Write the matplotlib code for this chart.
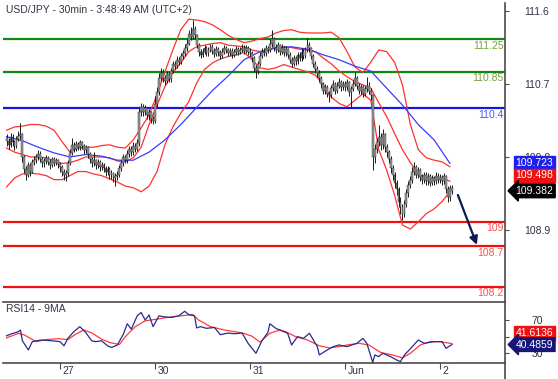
import numpy as np
import matplotlib
matplotlib.use("Agg")
import matplotlib.pyplot as plt
import matplotlib.transforms as mtransforms
from matplotlib.lines import Line2D

plt.rcParams['font.family'] = ['Liberation Sans', 'DejaVu Sans']

# %% Price data, 30 min bars, one block per session day

first_open = 110.03

close_may26 = [110.00, 109.95, 110.05, 109.98, 109.93, 110.02, 110.06, 110.08, 109.80, 109.65,
               109.58, 109.70, 109.62, 109.74, 109.76, 109.80, 109.84, 109.78, 109.72, 109.75,
               109.79, 109.74, 109.70, 109.77, 109.73, 109.76, 109.71]
high_may26 = [110.08, 110.04, 110.09, 110.08, 110.01, 110.06, 110.12, 110.22, 110.10, 109.83,
              109.69, 109.74, 109.73, 109.78, 109.81, 109.84, 109.89, 109.87, 109.80, 109.79,
              109.83, 109.81, 109.77, 109.80, 109.80, 109.79, 109.78]
low_may26 = [109.94, 109.90, 109.92, 109.94, 109.89, 109.91, 110.00, 110.02, 109.74, 109.60,
             109.52, 109.55, 109.57, 109.60, 109.70, 109.72, 109.76, 109.74, 109.67, 109.68,
             109.71, 109.70, 109.65, 109.67, 109.69, 109.70, 109.66]

close_may27 = [109.68, 109.62, 109.58, 109.60, 109.72, 109.85, 109.95, 109.90, 109.96, 109.92,
               109.98, 109.94, 109.88, 109.92, 109.84, 109.78, 109.72, 109.76, 109.70, 109.74,
               109.68, 109.70, 109.66, 109.62, 109.65, 109.58, 109.60, 109.54, 109.57, 109.58,
               109.66, 109.72, 109.80, 109.76, 109.84, 109.90, 109.86, 109.94, 109.90, 109.97,
               110.35, 110.42, 110.36, 110.40, 110.32, 110.35, 110.27, 110.24]
high_may27 = [109.74, 109.70, 109.65, 109.64, 109.76, 109.90, 110.03, 109.98, 110.00, 109.99,
              110.01, 110.00, 109.96, 109.95, 109.93, 109.86, 109.80, 109.86, 109.78, 109.77,
              109.76, 109.74, 109.72, 109.69, 109.69, 109.67, 109.64, 109.62, 109.60, 109.63,
              109.70, 109.76, 109.84, 109.83, 109.88, 109.94, 109.93, 109.98, 109.97, 110.02,
              110.42, 110.47, 110.45, 110.44, 110.42, 110.39, 110.37, 110.30]
low_may27 = [109.62, 109.57, 109.52, 109.50, 109.57, 109.70, 109.82, 109.86, 109.87, 109.88,
             109.89, 109.90, 109.84, 109.85, 109.79, 109.73, 109.67, 109.69, 109.65, 109.66,
             109.63, 109.64, 109.61, 109.57, 109.58, 109.53, 109.53, 109.49, 109.44, 109.52,
             109.55, 109.63, 109.69, 109.72, 109.73, 109.80, 109.81, 109.83, 109.86, 109.87,
             109.94, 110.30, 110.31, 110.32, 110.27, 110.25, 110.22, 110.21]

close_may30 = [110.45, 110.60, 110.78, 110.84, 110.78, 110.74, 110.82, 110.76, 110.86, 110.95,
               110.92, 111.00, 110.97, 111.04, 111.08, 111.14, 111.20, 111.32, 111.28, 111.38,
               111.30, 111.18, 111.10, 111.06, 111.10, 111.14, 111.08, 111.12, 111.16, 111.11,
               111.07, 111.13, 111.09, 111.05, 111.10, 111.14, 111.12, 111.08, 111.11, 111.06,
               111.09, 111.13, 111.10, 111.12, 111.15, 111.11, 111.14, 111.10]
high_may30 = [110.55, 110.66, 110.84, 110.90, 110.88, 110.81, 110.86, 110.85, 110.90, 110.99,
              110.98, 111.04, 111.03, 111.08, 111.12, 111.19, 111.26, 111.37, 111.40, 111.49,
              111.42, 111.32, 111.21, 111.13, 111.14, 111.18, 111.17, 111.16, 111.20, 111.19,
              111.14, 111.17, 111.16, 111.12, 111.14, 111.18, 111.17, 111.15, 111.15, 111.14,
              111.13, 111.17, 111.16, 111.16, 111.19, 111.18, 111.18, 111.17]
low_may30 = [110.22, 110.42, 110.57, 110.74, 110.72, 110.69, 110.71, 110.72, 110.73, 110.83,
             110.88, 110.90, 110.93, 110.95, 111.01, 111.05, 111.11, 111.18, 111.24, 111.25,
             111.26, 111.14, 111.05, 111.02, 111.03, 111.07, 111.04, 111.05, 111.09, 111.07,
             111.03, 111.04, 111.05, 111.01, 111.02, 111.07, 111.08, 111.04, 111.05, 111.02,
             111.03, 111.06, 111.06, 111.07, 111.09, 111.07, 111.08, 111.06]

close_may31 = [111.08, 111.02, 110.90, 110.86, 110.95, 111.05, 111.10, 111.08, 111.14, 111.12,
               111.20, 111.26, 111.15, 111.12, 111.18, 111.10, 111.15, 111.08, 111.13, 111.06,
               111.00, 110.95, 111.02, 110.98, 111.06, 111.02, 111.10, 111.05, 111.12, 111.18,
               111.14, 111.05, 110.95, 110.88, 110.84, 110.78, 110.70, 110.62, 110.66, 110.58,
               110.56, 110.65, 110.70, 110.62, 110.68, 110.72, 110.66, 110.70]
high_may31 = [111.14, 111.11, 111.04, 110.93, 110.99, 111.09, 111.14, 111.14, 111.18, 111.17,
              111.25, 111.37, 111.28, 111.19, 111.22, 111.20, 111.19, 111.17, 111.17, 111.15,
              111.09, 111.03, 111.06, 111.05, 111.10, 111.09, 111.14, 111.13, 111.16, 111.27,
              111.22, 111.16, 111.07, 110.98, 110.92, 110.87, 110.80, 110.73, 110.70, 110.69,
              110.62, 110.69, 110.75, 110.73, 110.72, 110.77, 110.75, 110.74]
low_may31 = [111.04, 110.97, 110.85, 110.78, 110.82, 110.92, 111.02, 111.04, 111.05, 111.08,
             111.09, 111.16, 111.11, 111.08, 111.09, 111.06, 111.07, 111.04, 111.05, 111.02,
             110.96, 110.91, 110.92, 110.94, 110.95, 110.98, 110.99, 111.01, 111.02, 111.09,
             111.10, 111.01, 110.91, 110.84, 110.79, 110.73, 110.65, 110.58, 110.58, 110.54,
             110.48, 110.53, 110.62, 110.58, 110.59, 110.65, 110.62, 110.63]

close_jun1 = [110.66, 110.72, 110.60, 110.64, 110.70, 110.78, 110.68, 110.62, 110.66, 110.58,
              110.64, 110.68, 110.62, 110.56, 109.80, 109.90, 109.98, 110.05, 109.95, 110.08,
              109.92, 109.86, 109.78, 109.66, 109.58, 109.48, 109.40, 109.25, 109.18, 109.10,
              109.22, 109.35, 109.46, 109.52, 109.62, 109.68, 109.58, 109.64, 109.55, 109.52,
              109.58, 109.50, 109.56, 109.48, 109.54, 109.50, 109.57, 109.52]
high_jun1 = [110.74, 110.76, 110.74, 110.68, 110.75, 110.85, 110.80, 110.71, 110.70, 110.69,
             110.68, 110.79, 110.72, 110.65, 110.58, 109.96, 110.04, 110.19, 110.10, 110.14,
             110.10, 109.96, 109.89, 109.81, 109.70, 109.62, 109.52, 109.43, 109.30, 109.22,
             109.27, 109.40, 109.50, 109.57, 109.67, 109.74, 109.70, 109.68, 109.66, 109.59,
             109.62, 109.61, 109.60, 109.59, 109.58, 109.57, 109.61, 109.60]
low_jun1 = [110.62, 110.63, 110.55, 110.42, 110.61, 110.67, 110.64, 110.58, 110.58, 110.54,
            110.55, 110.60, 110.58, 110.50, 109.64, 109.72, 109.85, 109.94, 109.88, 109.90,
            109.86, 109.80, 109.72, 109.60, 109.52, 109.42, 109.33, 109.18, 109.10, 109.02,
            109.06, 109.18, 109.31, 109.42, 109.48, 109.58, 109.54, 109.54, 109.50, 109.47,
            109.48, 109.46, 109.46, 109.44, 109.45, 109.46, 109.47, 109.48]

close_jun2 = [109.55, 109.50, 109.56, 109.40, 109.30, 109.42, 109.382]
high_jun2 = [109.59, 109.58, 109.60, 109.58, 109.44, 109.46, 109.45]
low_jun2 = [109.48, 109.46, 109.47, 109.35, 109.24, 109.26, 109.34]

# %% Indicators (bands every 4 bars, blue MA every 8 bars)

band_bars = np.arange(0, 225, 4)
bb_upper = [110.13, 110.17, 110.18, 110.20, 110.20, 110.18, 110.13, 109.99, 109.86, 109.91,
            109.92, 109.92, 109.94, 109.95, 109.92, 109.91, 110.01, 110.16, 110.32, 110.57,
            110.85, 111.12, 111.37, 111.50, 111.49, 111.47, 111.43, 111.37, 111.30, 111.25,
            111.21, 111.23, 111.26, 111.28, 111.33, 111.36, 111.37, 111.34, 111.33, 111.33,
            111.33, 111.34, 111.27, 111.10, 110.91, 110.84, 110.97, 111.12, 111.10, 110.97,
            110.69, 110.20, 109.89, 109.79, 109.76, 109.74, 109.68]
bb_middle = [109.91, 109.86, 109.83, 109.80, 109.80, 109.79, 109.75, 109.72, 109.73, 109.76,
             109.80, 109.80, 109.80, 109.79, 109.75, 109.74, 109.79, 109.92, 110.20, 110.44,
             110.67, 110.84, 110.96, 111.10, 111.16, 111.18, 111.20, 111.21, 111.18, 111.17,
             111.16, 111.12, 111.10, 111.11, 111.15, 111.16, 111.15, 111.13, 111.12, 111.10,
             111.02, 110.95, 110.86, 110.79, 110.73, 110.69, 110.65, 110.47, 110.30, 110.09,
             109.89, 109.73, 109.59, 109.54, 109.54, 109.54, 109.50]
bb_lower = [109.43, 109.54, 109.59, 109.60, 109.59, 109.57, 109.52, 109.52, 109.57, 109.62,
            109.62, 109.59, 109.57, 109.53, 109.49, 109.44, 109.42, 109.37, 109.44, 109.62,
            109.95, 110.17, 110.34, 110.48, 110.71, 110.88, 110.96, 111.01, 111.04, 111.06,
            111.09, 111.00, 110.90, 110.88, 110.90, 110.94, 110.91, 110.88, 110.85, 110.81,
            110.69, 110.54, 110.46, 110.42, 110.50, 110.58, 110.50, 109.89, 109.64, 109.33,
            108.96, 108.91, 109.00, 109.10, 109.16, 109.25, 109.37]

ma_bars = np.arange(0, 225, 8)
ma_blue = [110.05, 110.00, 109.92, 109.85, 109.80, 109.83, 109.81, 109.76, 109.76, 109.86,
           110.01, 110.20, 110.41, 110.62, 110.80, 111.00, 111.10, 111.15, 111.16, 111.13,
           111.06, 111.00, 110.92, 110.86, 110.65, 110.44, 110.20, 110.01, 109.72]

# RSI14 and its 9MA
rsi_bars = [0, 2, 6, 7, 8, 11, 13, 15, 18, 23, 27, 29, 31, 34, 37, 40, 43, 45, 48, 51,
            53, 56, 59, 61, 63, 66, 68, 70, 72, 74, 77, 79, 83, 87, 90, 92, 95, 96, 98, 101,
            105, 108, 112, 115, 119, 122, 126, 129, 132, 133, 136, 138, 142, 144, 147, 150,
            153, 157, 158, 162, 165, 168, 172, 177, 180, 182, 185, 186, 188, 190, 194, 197,
            199, 201, 205, 208, 211, 216, 220, 222, 225]
rsi_vals = [51, 53, 56, 58, 45, 34, 44, 45, 46, 45, 44, 39, 48, 56, 62, 55, 45, 44, 45, 39,
            37, 40, 53, 65.5, 59, 75, 79, 70, 76, 62, 75, 74, 73, 75, 80.5, 76.5, 75, 60.5, 62, 60,
            61, 52.4, 54.3, 53.5, 54.3, 42, 30, 45, 55, 65.5, 60, 58, 54, 40, 50, 48,
            54, 38, 28, 34, 38, 40, 38, 42, 48, 42, 19, 28, 26, 30, 26, 22,
            20, 28, 38, 46, 42, 44, 44, 36, 40.49]
rsi_ma_bars = [0, 6, 9, 15, 20, 26, 31, 35, 39, 43, 48, 52, 57, 60, 65, 70, 76, 81, 88, 94,
               97, 103, 110, 119, 124, 128, 133, 138, 141, 146, 152, 158, 163, 168, 172, 178,
               183, 189, 195, 200, 204, 209, 214, 219, 225]
rsi_ma_vals = [48.5, 54, 52, 44, 46.5, 47.5, 46.5, 53, 58, 54.5, 47, 43, 40.5, 50, 62, 69, 71,
               73, 75, 76.5, 70, 62, 58, 54.5, 50.5, 43.5, 54, 58, 56, 50, 46, 39, 36.5, 38, 40,
               42, 40, 31, 28, 24.5, 30, 40, 44, 44, 41.61]

# Levels
green_levels = [111.25, 110.85]
blue_levels = [110.4]
red_levels = [109.0, 108.7, 108.2]
level_text = {111.25: '111.25', 110.85: '110.85', 110.4: '110.4',
              109.0: '109', 108.7: '108.7', 108.2: '108.2'}

price_ticks = [108.9, 109.8, 110.7, 111.6]
rsi_ticks = [30, 50, 70]
day_ticks = [27, 75, 123, 171, 219]
day_labels = ['27', '30', '31', 'Jun', '2']

last_ma, last_mid, last_close = 109.723, 109.498, 109.382
last_rsi, last_rsi_ma = 40.4859, 41.6136
arrow_from = (228, 109.33)
arrow_to = (237.6, 108.715)

# %% Build bar arrays

closes = np.array(close_may26 + close_may27 + close_may30 + close_may31 + close_jun1 + close_jun2)
highs = np.array(high_may26 + high_may27 + high_may30 + high_may31 + high_jun1 + high_jun2)
lows = np.array(low_may26 + low_may27 + low_may30 + low_may31 + low_jun1 + low_jun2)
opens = np.concatenate([[first_open], closes[:-1]])
x = np.arange(len(closes))

W, H = 558, 379
fig = plt.figure(figsize=(W / 100, H / 100), dpi=100)
ax = fig.add_axes([3 / W, 77 / H, 502 / W, 299 / H])
axr = fig.add_axes([3 / W, 16 / H, 502 / W, 61 / H], sharex=ax)

TXT = '#333344'
EDGE = '#4a4a4a'
FS = 7.5

# levels
for lv in green_levels:
    ax.axhline(lv, color='#118811', lw=1.6, zorder=1)
for lv in blue_levels:
    ax.axhline(lv, color='#1515e6', lw=1.6, zorder=1)
for lv in red_levels:
    ax.axhline(lv, color='#ee1111', lw=1.6, zorder=1)

lab_tr = ax.get_yaxis_transform() + mtransforms.ScaledTranslation(0, -1.5 / 100, fig.dpi_scale_trans)
for lv, col in [(v, '#78a040') for v in green_levels] + [(v, '#5555ee') for v in blue_levels] + \
               [(v, '#ff5050') for v in red_levels]:
    ax.text(0.997, lv, level_text[lv], transform=lab_tr, ha='right', va='top',
            fontsize=FS, color=col, zorder=6)

# bands and moving average
ax.plot(band_bars, bb_upper, color='#ff3030', lw=0.9, zorder=2)
ax.plot(band_bars, bb_middle, color='#ff3030', lw=0.9, zorder=2)
ax.plot(band_bars, bb_lower, color='#ff3030', lw=0.9, zorder=2)
ax.plot(ma_bars, ma_blue, color='#3b3bff', lw=0.9, zorder=2)

# candles: black wick, grey body with dark outline
ax.vlines(x, lows, highs, color='#1a1a1a', lw=0.7, zorder=3)
body_lo = np.minimum(opens, closes)
body_h = np.maximum(np.abs(closes - opens), 0.012)
ax.bar(x, body_h, bottom=body_lo, width=0.95, color='#9a9a9a', edgecolor='#2a2a2a',
       linewidth=0.3, zorder=4)

ax.annotate('', xy=arrow_to, xytext=arrow_from,
            arrowprops=dict(arrowstyle='-|>', color='#0c1a4f', lw=1.6, mutation_scale=12,
                            shrinkA=0, shrinkB=0), zorder=7)

ax.set_xlim(-1.8, 251.8)
ax.set_ylim(108.01, 111.70)

# RSI panel
axr.plot(rsi_bars, rsi_vals, color='#2a2a90', lw=0.9, zorder=3)
axr.plot(rsi_ma_bars, rsi_ma_vals, color='#ff3b3b', lw=0.9, zorder=2)
axr.set_ylim(18.35, 91.6)

# spines and ticks
for a in (ax, axr):
    a.spines['left'].set_visible(False)
    a.spines['right'].set_color(EDGE)
    a.spines['right'].set_linewidth(1.2)
    a.yaxis.tick_right()
    a.tick_params(axis='y', direction='out', length=3, width=0.8, colors=EDGE,
                  labelcolor=TXT, labelsize=FS, pad=20)
ax.spines['top'].set_visible(False)
ax.spines['bottom'].set_visible(False)
ax.tick_params(axis='x', bottom=False, labelbottom=False)
for s in ('top', 'bottom'):
    axr.spines[s].set_color(EDGE)
    axr.spines[s].set_linewidth(1.2)

ax.set_yticks(price_ticks)
ax.set_yticklabels([f'{v:.1f}' for v in price_ticks])
axr.set_yticks(rsi_ticks)
axr.set_yticklabels([str(v) for v in rsi_ticks])
for a in (ax, axr):
    for t in a.get_yticklabels():
        t.set_horizontalalignment('center')

axr.set_xticks(day_ticks)
axr.tick_params(axis='x', direction='out', length=4, width=0.8, colors=EDGE, labelbottom=False)
day_tr = axr.get_xaxis_transform() + mtransforms.ScaledTranslation(2.5 / 100, -8 / 100, fig.dpi_scale_trans)
for b, lab in zip(day_ticks, day_labels):
    axr.text(b, 0, lab, transform=day_tr, ha='left', va='center', fontsize=FS, color=TXT)

fig.add_artist(Line2D([505 / W, 505 / W], [0, 16 / H], color=EDGE, lw=1.2, transform=fig.transFigure))

# last value boxes on the right
def value_box(a, val, txt, fc, style='square', dy=0.0):
    tr = a.get_yaxis_transform() + mtransforms.ScaledTranslation(0, dy / 100, fig.dpi_scale_trans)
    a.text(1.0585, val, txt, transform=tr, ha='center', va='center', fontsize=FS, color='white',
           bbox=dict(boxstyle=f'{style},pad=0.18', fc=fc, ec=fc), zorder=10, clip_on=False)

value_box(ax, last_ma, f'{last_ma:.3f}', '#1f1ff0')
value_box(ax, last_mid, f'{last_mid:.3f}', '#ee1111', dy=6)
value_box(ax, last_close, f'{last_close:.3f}', '#000000', style='larrow')
value_box(axr, last_rsi_ma, f'{last_rsi_ma:.4f}', '#ee1111', dy=11)
value_box(axr, last_rsi, f'{last_rsi:.4f}', '#15157a', style='larrow')

fig.text(6 / W, 1 - 10 / H, 'USD/JPY - 30min - 3:48:49 AM (UTC+2)', ha='left', va='center',
         fontsize=FS, color=TXT)
fig.text(6 / W, 1 - 309 / H, 'RSI14 - 9MA', ha='left', va='center', fontsize=FS, color=TXT)

fig.savefig('out.png', dpi=100)
